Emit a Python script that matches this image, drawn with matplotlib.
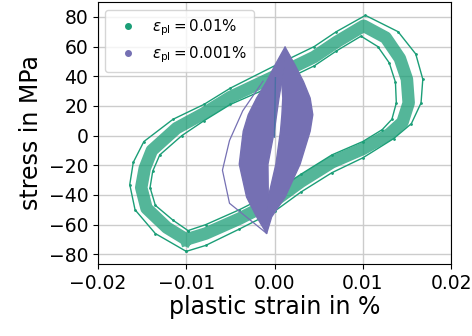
import numpy as np
import matplotlib
matplotlib.use("Agg")
import matplotlib.pyplot as plt
from matplotlib.lines import Line2D

# green loops, eps_pl = 0.01 %  (centre of band, outer and inner scatter)
green_x = [-0.0100, -0.0078, -0.0040, 0.0000, 0.0030, 0.0065, 0.0100, 0.0130, 0.0145, 0.0152, 0.0150, 0.0142, 0.0126,
           0.0101, 0.0070, 0.0045, 0.0000, -0.0050, -0.0080, -0.0111, -0.0139, -0.0147, -0.0151, -0.0145, -0.0122, -0.0100]
green_y = [-70, -66, -56, -44, -31, -18, -9, 1, 9, 22, 38, 52, 66,
           74, 63, 53, 40, 26, 15, 5, -10, -22, -35, -49, -62, -70]

green_out_x = [-0.0100, -0.0078, -0.0040, 0.0000, 0.0030, 0.0065, 0.0100, 0.0135, 0.0155, 0.0166, 0.0168, 0.0160, 0.0140,
               0.0103, 0.0070, 0.0045, 0.0000, -0.0050, -0.0080, -0.0115, -0.0148, -0.0160, -0.0164, -0.0158, -0.0135, -0.0100]
green_out_y = [-78, -74, -63, -51, -38, -25, -15, -2, 8, 22, 38, 55, 70,
               81, 70, 60, 47, 32, 21, 11, -4, -18, -33, -50, -66, -78]

green_in_x = [-0.0098, -0.0078, -0.0040, 0.0000, 0.0030, 0.0065, 0.0100, 0.0122, 0.0133, 0.0138, 0.0137, 0.0130, 0.0117,
              0.0098, 0.0070, 0.0045, 0.0000, -0.0050, -0.0080, -0.0105, -0.0130, -0.0138, -0.0141, -0.0135, -0.0115, -0.0098]
green_in_y = [-64, -60, -50, -38, -26, -13, -4, 4, 11, 22, 36, 49, 60,
              67, 57, 47, 34, 21, 10, 0, -13, -24, -35, -47, -57, -64]

# purple band, eps_pl = 0.001 %  (edges at given stress levels)
purple_lev = [-65.6, -54.4, -41.1, -18.9, 3.3, 14.4, 25.6, 36.7, 47.8, 60.0]
purple_out_left = [-0.00095, -0.00208, -0.00322, -0.00405, -0.00360, -0.00303, -0.00208, -0.00095, 0.00000, 0.00114]
purple_in_left = [-0.00095, -0.00100, -0.00076, -0.00080, -0.00008, 0.00018, 0.00045, 0.00076, 0.00110, 0.00114]
purple_in_right = [-0.00095, -0.00100, -0.00076, 0.00010, 0.00062, 0.00078, 0.00088, 0.00076, 0.00110, 0.00114]
purple_out_right = [-0.00095, -0.00038, 0.00114, 0.00284, 0.00398, 0.00428, 0.00398, 0.00322, 0.00227, 0.00114]

# stray purple cycle on the left
purple_stray_x = [-0.00095, -0.0051, -0.0059, -0.0051, -0.0036, -0.0013]
purple_stray_y = [-65.6, -45.6, -23.3, -3.3, 16.7, 36.7]

# first loading path
first_x = [0.0, 0.0001]
first_y = [-1, 39]

labels = [r'$\varepsilon_{\rm pl} = 0.01\%$', r'$\varepsilon_{\rm pl} = 0.001\%$']
green = '#1b9e77'
purple = '#7570b3'

fig = plt.figure(figsize=(4.72, 3.36), dpi=100)
ax = fig.add_axes([0.2076, 0.2143, 0.748, 0.7797])

ax.plot(green_x, green_y, color=green, lw=9, alpha=0.75, solid_joinstyle='round', zorder=2)
ax.plot(green_out_x, green_out_y, color=green, lw=1, marker='.', ms=2, zorder=2)
ax.plot(green_in_x, green_in_y, color=green, lw=1, marker='.', ms=2, zorder=2)

ax.fill_betweenx(purple_lev, purple_out_left, purple_in_left, color=purple, lw=1, edgecolor=purple, zorder=3)
ax.fill_betweenx(purple_lev, purple_in_right, purple_out_right, color=purple, lw=1, edgecolor=purple, zorder=3)
ax.plot(purple_stray_x, purple_stray_y, color=purple, lw=0.9, zorder=3)
ax.plot(first_x, first_y, color='#4a6fa5', lw=1, zorder=4)

ax.set_xlim(-0.02, 0.02)
ax.set_ylim(-86.5, 90)
ax.set_xticks([-0.02, -0.01, 0.0, 0.01, 0.02])
ax.set_xticklabels(['−0.02', '−0.01', '0.00', '0.01', '0.02'])
ax.set_yticks(np.arange(-80, 81, 20))
ax.tick_params(labelsize=13.5, length=3.5)
ax.grid(True, color='#cccccc', lw=1)
ax.set_axisbelow(True)
ax.set_xlabel('plastic strain in %', fontsize=17, labelpad=2)
ax.set_ylabel('stress in MPa', fontsize=17, labelpad=4)

handles = [Line2D([], [], color=green, marker='o', ms=4, ls='none'),
           Line2D([], [], color=purple, marker='o', ms=4, ls='none')]
ax.legend(handles, labels, loc='upper left', fontsize=10.8, handletextpad=0.6, borderpad=0.5, labelspacing=0.45)

fig.savefig('out.png', dpi=100)
